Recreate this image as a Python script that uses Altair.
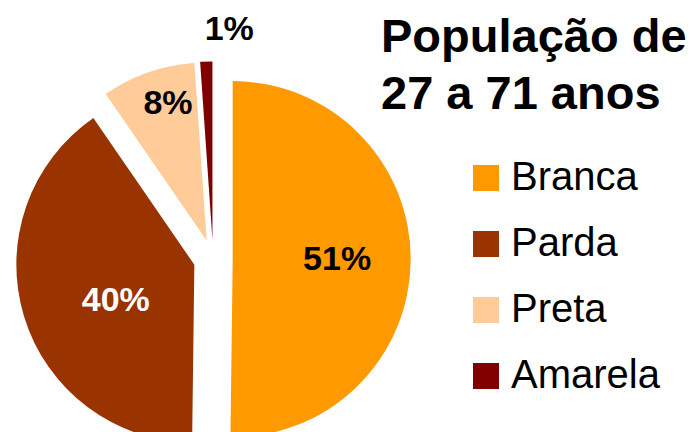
import altair as alt
import pandas as pd

categories = ["Branca", "Parda", "Preta", "Amarela"]
values = [50.2, 40.2, 8.5, 1.1]
labels = ["51%", "40%", "8%", "1%"]
colors = ["#FF9900", "#993300", "#FFCC99", "#800000"]
title_lines = ["População de", "27 a 71 anos"]

df = pd.DataFrame({
    "category": categories,
    "value": values,
    "label": labels,
    "order": list(range(len(categories))),
})

CX, CY, R, EXPLODE = 205.1, 251.0, 178, 19.6
FONT = "Liberation Sans"

base = (
    alt.Chart(df)
    .transform_window(cum="sum(value)", sort=[alt.SortField("order")], frame=[None, 0])
    .transform_joinaggregate(total="sum(value)")
    .transform_calculate(
        t1="2*PI*datum.cum/datum.total",
        t0="2*PI*(datum.cum - datum.value)/datum.total",
    )
    .transform_calculate(mid="(datum.t0 + datum.t1)/2")
    .transform_calculate(
        ax=f"{CX} + {EXPLODE}*sin(datum.mid)",
        ay=f"{CY} - {EXPLODE}*cos(datum.mid)",
        lr="datum.value >= 45 ? 124 : datum.value >= 20 ? 106 : datum.value >= 5 ? 161 : 230",
        la="datum.mid + PI/180*(datum.value < 2 ? 6 : datum.value < 20 ? 3 : datum.value < 45 ? -6.5 : 0)",
    )
    .transform_calculate(
        lx=f"{CX} + datum.lr*sin(datum.la)",
        ly=f"{CY} - datum.lr*cos(datum.la)",
    )
)

arcs = base.mark_arc(outerRadius=R, stroke=None).encode(
    x=alt.X("ax:Q", scale=None, axis=None),
    y=alt.Y("ay:Q", scale=None, axis=None),
    theta=alt.Theta("t0:Q", scale=None),
    theta2="t1:Q",
    color=alt.Color(
        "category:N",
        scale=alt.Scale(domain=categories, range=colors),
        legend=alt.Legend(
            title=None,
            orient="none",
            legendX=458,
            legendY=150,
            symbolType="square",
            symbolSize=676,
            symbolStrokeWidth=0,
            labelFont=FONT,
            labelFontSize=40,
            labelColor="black",
            labelOffset=5,
            rowPadding=26,
            labelLimit=400,
        ),
    ),
)

texts = base.mark_text(font=FONT, fontSize=34, fontWeight="bold", align="center", baseline="middle").encode(
    x=alt.X("lx:Q", scale=None, axis=None),
    y=alt.Y("ly:Q", scale=None, axis=None),
    text="label:N",
    color=alt.condition(alt.datum.category == "Parda", alt.value("white"), alt.value("black")),
)

chart = (
    alt.layer(arcs, texts)
    .properties(
        width=681,
        height=424,
        padding=0,
        autosize=alt.AutoSizeParams(type="none"),
        title=alt.TitleParams(
            text=title_lines,
            anchor="start",
            orient="top",
            frame="group",
            font=FONT,
            fontSize=47,
            fontWeight="bold",
            color="black",
            lineHeight=57,
            baseline="top",
            offset=0,
            dx=373,
            dy=111,
        ),
    )
    .configure_view(strokeWidth=0)
)

chart.save("out.html", embed_options={"renderer": "svg", "actions": False})
